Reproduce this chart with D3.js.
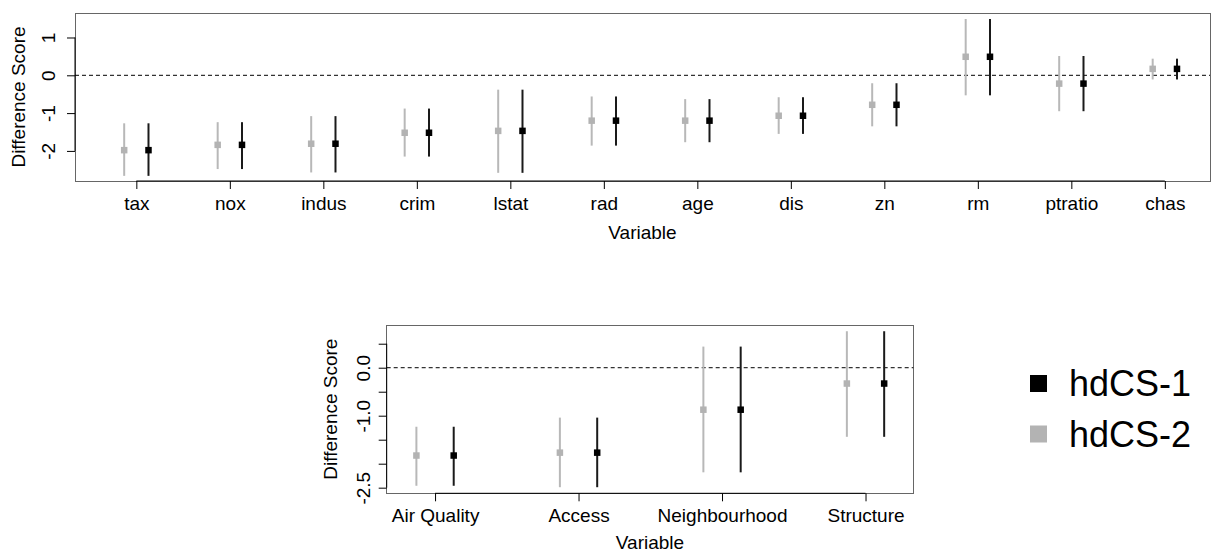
<!DOCTYPE html>
<html>
<head>
<meta charset="utf-8">
<script src="https://cdn.jsdelivr.net/npm/d3@7"></script>
<style>
  html, body { margin: 0; padding: 0; background: #fff; }
  svg { display: block; font-family: "Liberation Sans", Arial, sans-serif; }
</style>
</head>
<body>
<svg id="chart" width="1211" height="555"></svg>
<script>
// ---------- data ----------
const topCategories = ["tax","nox","indus","crim","lstat","rad","age","dis","zn","rm","ptratio","chas"];
const topHdcs1Mean  = [-1.98,-1.84,-1.81,-1.52,-1.47,-1.20,-1.20,-1.07,-0.78, 0.49,-0.22, 0.17];
const topHdcs1Lower = [-2.66,-2.48,-2.57,-2.15,-2.58,-1.86,-1.77,-1.55,-1.35,-0.53,-0.95,-0.11];
const topHdcs1Upper = [-1.27,-1.24,-1.08,-0.88,-0.38,-0.56,-0.63,-0.58,-0.21, 1.49, 0.51, 0.44];
const topHdcs2Mean  = [-1.98,-1.84,-1.81,-1.52,-1.47,-1.20,-1.20,-1.07,-0.78, 0.49,-0.22, 0.17];
const topHdcs2Lower = [-2.66,-2.48,-2.57,-2.15,-2.58,-1.86,-1.77,-1.55,-1.35,-0.53,-0.95,-0.11];
const topHdcs2Upper = [-1.27,-1.24,-1.08,-0.88,-0.38,-0.56,-0.63,-0.58,-0.21, 1.49, 0.51, 0.44];
const topYTicks      = [-2, -1, 0, 1];
const topYTickLabels = ["-2", "-1", "0", "1"];

const bottomCategories = ["Air Quality","Access","Neighbourhood","Structure"];
const bottomHdcs1Mean  = [-1.83,-1.77,-0.875,-0.33];
const bottomHdcs1Lower = [-2.46,-2.49,-2.18,-1.44];
const bottomHdcs1Upper = [-1.23,-1.04, 0.44, 0.76];
const bottomHdcs2Mean  = [-1.83,-1.77,-0.875,-0.33];
const bottomHdcs2Lower = [-2.46,-2.49,-2.18,-1.44];
const bottomHdcs2Upper = [-1.23,-1.04, 0.44, 0.76];
const bottomYTicks      = [0.5, 0, -0.5, -1, -1.5, -2, -2.5];
const bottomYTickLabels = ["", "0.0", "", "-1.0", "", "", "-2.5"];

const seriesNames  = ["hdCS-1", "hdCS-2"];
const seriesColors = ["#000000", "#b3b3b3"];
const seriesLineColors = ["#1a1a1a", "#b8b8b8"];
const seriesOffsets = [0.13, -0.13];
const xAxisTitle = "Variable";
const yAxisTitle = "Difference Score";

// ---------- drawing ----------
const svg = d3.select("#chart");
const FONT = 19;

function panel(cfg) {
  const g = svg.append("g");
  const x = d3.scaleLinear().domain(cfg.xDomain).range([cfg.left, cfg.right]);
  const y = d3.scaleLinear().domain(cfg.yDomain).range([cfg.bottom, cfg.top]);

  // box
  g.append("rect")
    .attr("x", cfg.left).attr("y", cfg.top)
    .attr("width", cfg.right - cfg.left).attr("height", cfg.bottom - cfg.top)
    .attr("fill", "none").attr("stroke", "#666").attr("stroke-width", 1)
    .attr("shape-rendering", "crispEdges");

  // zero dashed line
  g.append("line")
    .attr("x1", cfg.left).attr("x2", cfg.right)
    .attr("y1", y(0)).attr("y2", y(0))
    .attr("stroke", "#000").attr("stroke-width", 1)
    .attr("stroke-dasharray", "4,3");

  // x axis
  const idx = cfg.categories.map((d, i) => i + 1);
  const xAxis = d3.axisBottom(x).tickValues(idx)
    .tickFormat((d, i) => cfg.categories[i])
    .tickSize(8).tickSizeOuter(0).tickPadding(5);
  const xg = g.append("g").attr("transform", `translate(0,${cfg.bottom})`).call(xAxis);
  xg.select(".domain").remove();
  xg.selectAll(".tick line").attr("stroke", "#000");
  xg.selectAll(".tick text")
    .attr("y", 0).attr("dy", 0)
    .attr("transform", "translate(0,28.5)")
    .attr("font-size", FONT).attr("font-family", "Liberation Sans, Arial, sans-serif")
    .attr("fill", "#000");
  xg.append("line")
    .attr("x1", x(idx[0])).attr("x2", x(idx[idx.length - 1]))
    .attr("y1", 0).attr("y2", 0).attr("stroke", "#000");

  // y axis
  const yAxis = d3.axisLeft(y).tickValues(cfg.yTicks)
    .tickFormat((d, i) => cfg.yTickLabels[i])
    .tickSize(8).tickSizeOuter(0);
  const yg = g.append("g").attr("transform", `translate(${cfg.left},0)`).call(yAxis);
  yg.select(".domain").remove();
  yg.selectAll(".tick line").attr("stroke", "#000");
  yg.selectAll(".tick text")
    .attr("x", 0).attr("dy", 0).attr("y", 0)
    .attr("text-anchor", "middle")
    .attr("transform", `translate(${-cfg.yLabelOff},0) rotate(-90)`)
    .attr("font-size", FONT).attr("font-family", "Liberation Sans, Arial, sans-serif")
    .attr("fill", "#000");
  yg.append("line")
    .attr("x1", 0).attr("x2", 0)
    .attr("y1", y(d3.max(cfg.yTicks))).attr("y2", y(d3.min(cfg.yTicks)))
    .attr("stroke", "#000");

  // titles
  g.append("text")
    .attr("x", (cfg.left + cfg.right) / 2).attr("y", cfg.bottom + cfg.xTitleOff)
    .attr("text-anchor", "middle").attr("font-size", FONT).text(xAxisTitle);
  g.append("text")
    .attr("transform", `translate(${cfg.left - 50},${(cfg.top + cfg.bottom) / 2}) rotate(-90)`)
    .attr("text-anchor", "middle").attr("font-size", FONT).text(yAxisTitle);

  // series: draw gray (hdCS-2) first, then black
  const seriesData = [
    { mean: cfg.s1Mean, lo: cfg.s1Lower, hi: cfg.s1Upper, k: 0 },
    { mean: cfg.s2Mean, lo: cfg.s2Lower, hi: cfg.s2Upper, k: 1 }
  ];
  seriesData.slice().reverse().forEach(s => {
    const rows = cfg.categories.map((c, i) => ({ i: i + 1, m: s.mean[i], lo: s.lo[i], hi: s.hi[i] }));
    const sg = g.append("g");
    sg.selectAll("line").data(rows).enter().append("line")
      .attr("x1", d => x(d.i + seriesOffsets[s.k])).attr("x2", d => x(d.i + seriesOffsets[s.k]))
      .attr("y1", d => y(d.lo)).attr("y2", d => y(d.hi))
      .attr("stroke", seriesLineColors[s.k]).attr("stroke-width", 2);
    const sz = 6.5;
    sg.selectAll("rect").data(rows).enter().append("rect")
      .attr("x", d => x(d.i + seriesOffsets[s.k]) - sz / 2)
      .attr("y", d => y(d.m) - sz / 2)
      .attr("width", sz).attr("height", sz)
      .attr("fill", seriesColors[s.k]);
  });
}

panel({
  left: 75, right: 1210, top: 13, bottom: 181,
  xDomain: [0.344, 12.483], yDomain: [-2.796, 1.648],
  categories: topCategories, yTicks: topYTicks, yTickLabels: topYTickLabels,
  yLabelOff: 20, xTitleOff: 58,
  s1Mean: topHdcs1Mean, s1Lower: topHdcs1Lower, s1Upper: topHdcs1Upper,
  s2Mean: topHdcs2Mean, s2Lower: topHdcs2Lower, s2Upper: topHdcs2Upper
});

panel({
  left: 386.7, right: 913.3, top: 325, bottom: 493.3,
  xDomain: [0.663, 4.333], yDomain: [-2.617, 0.89],
  categories: bottomCategories, yTicks: bottomYTicks, yTickLabels: bottomYTickLabels,
  yLabelOff: 17, xTitleOff: 56,
  s1Mean: bottomHdcs1Mean, s1Lower: bottomHdcs1Lower, s1Upper: bottomHdcs1Upper,
  s2Mean: bottomHdcs2Mean, s2Lower: bottomHdcs2Lower, s2Upper: bottomHdcs2Upper
});

// legend
const legendY = d3.scaleLinear().domain([0, 1]).range([383.5, 434]);
const lg = svg.append("g");
seriesNames.forEach((name, i) => {
  lg.append("rect")
    .attr("x", 1030).attr("y", legendY(i) - 8.5)
    .attr("width", 17).attr("height", 17)
    .attr("fill", seriesColors[i]);
  lg.append("text")
    .attr("x", 1069).attr("y", legendY(i) + 12.5)
    .attr("font-size", 36).attr("fill", "#000").text(name);
});
</script>
</body>
</html>
